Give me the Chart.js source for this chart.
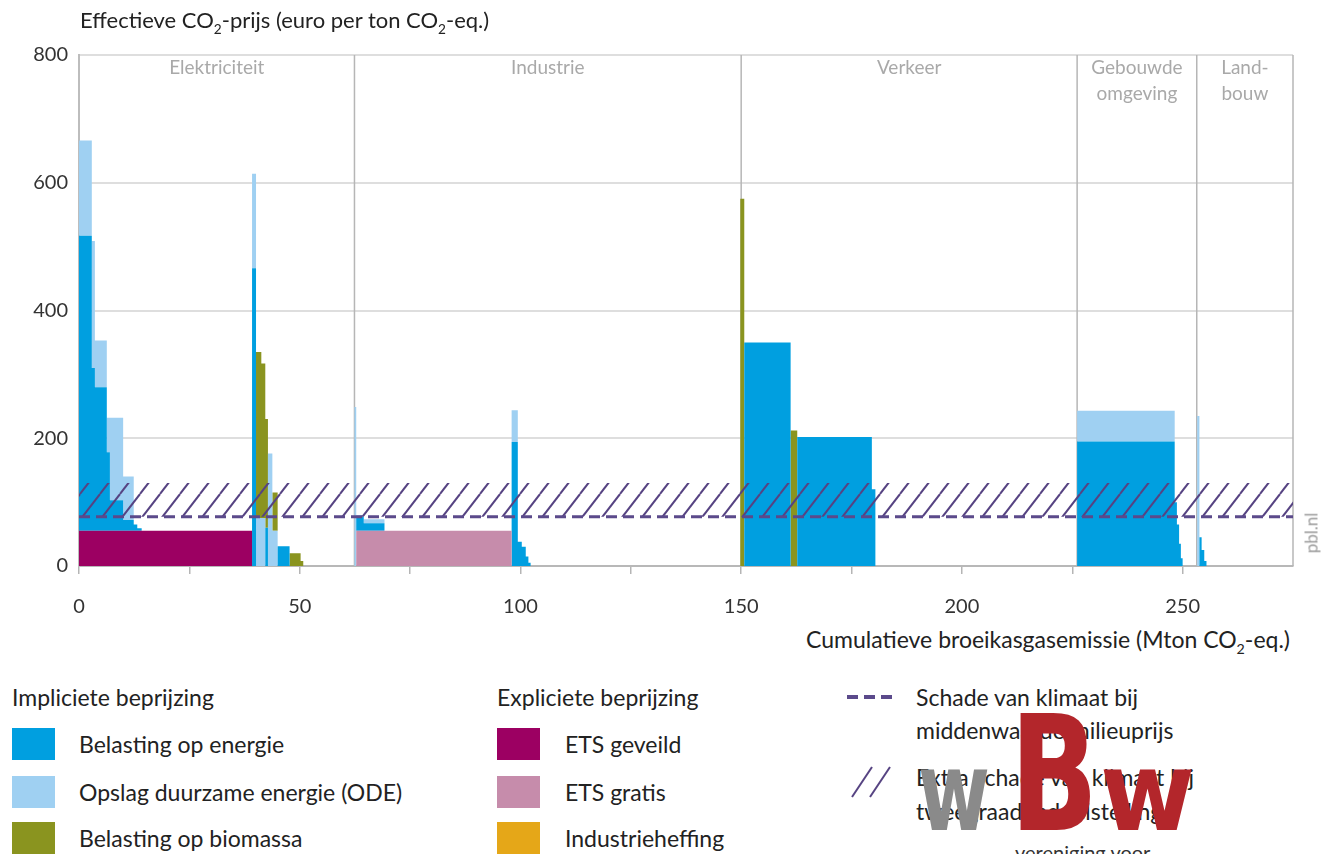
<!DOCTYPE html>
<html lang="nl">
<head>
<meta charset="utf-8">
<title>Effectieve CO2-prijs per sector</title>
<script src="https://cdn.jsdelivr.net/npm/chart.js@4.4.1/dist/chart.umd.min.js"></script>
<style>
  html, body { margin: 0; padding: 0; background: #fff; }
  body { font-family: Lato, "Noto Sans", sans-serif; color: #222; }
  #pagina { position: relative; width: 1329px; height: 854px; overflow: hidden; }
  #grafiekVak { position: absolute; left: 0; top: 0; width: 1329px; height: 625px; }
  .tekst { position: absolute; white-space: nowrap; line-height: 1; }
  sub { font-size: 0.62em; vertical-align: -0.42em; line-height: 0; }
  .titel { left: 80px; top: 9px; font-size: 22px; }
  .astitel { right: 39px; top: 628px; font-size: 23px; }
  .bron { left: 1311px; top: 533px; font-size: 17px; color: #9a9a9a; transform: translate(-50%, -50%) rotate(-90deg); }
  .kop, .item { font-size: 23px; }
  .vak { position: absolute; width: 43px; height: 32px; }
  .logo { position: absolute; left: 900px; top: 700px; }
</style>
</head>
<body>
<div id="pagina">
  <div id="grafiekVak"><canvas id="prijsChart"></canvas></div>

  <div class="tekst titel">Effectieve CO<sub>2</sub>-prijs (euro per ton CO<sub>2</sub>-eq.)</div>
  <div class="tekst astitel">Cumulatieve broeikasgasemissie (Mton CO<sub>2</sub>-eq.)</div>
  <div class="tekst bron">pbl.nl</div>

  <!-- legenda -->
  <div class="tekst kop" style="left:12px; top:686px;">Impliciete beprijzing</div>
  <div class="vak" style="left:12px; top:728px; background:#009fe0;"></div>
  <div class="tekst item" style="left:79px; top:733px;">Belasting op energie</div>
  <div class="vak" style="left:12px; top:776px; background:#9fd0f2;"></div>
  <div class="tekst item" style="left:79px; top:781px;">Opslag duurzame energie (ODE)</div>
  <div class="vak" style="left:12px; top:822px; background:#8a941f;"></div>
  <div class="tekst item" style="left:79px; top:827px;">Belasting op biomassa</div>

  <div class="tekst kop" style="left:497px; top:686px;">Expliciete beprijzing</div>
  <div class="vak" style="left:497px; top:728px; background:#9c0062;"></div>
  <div class="tekst item" style="left:565px; top:733px;">ETS geveild</div>
  <div class="vak" style="left:497px; top:776px; background:#c68cab;"></div>
  <div class="tekst item" style="left:565px; top:781px;">ETS gratis</div>
  <div class="vak" style="left:497px; top:822px; background:#e5a718;"></div>
  <div class="tekst item" style="left:565px; top:827px;">Industrieheffing</div>

  <svg style="position:absolute; left:847px; top:690px;" width="46" height="14">
    <line x1="0" y1="7" x2="46" y2="7" stroke="#5b4a8b" stroke-width="4" stroke-dasharray="11,6"/>
  </svg>
  <div class="tekst item" style="left:916px; top:686px;">Schade van klimaat bij</div>
  <div class="tekst item" style="left:916px; top:719px;">middenwaarde milieuprijs</div>
  <svg style="position:absolute; left:850px; top:763px;" width="43" height="36">
    <line x1="2" y1="34" x2="22" y2="4" stroke="#564382" stroke-width="2"/>
    <line x1="20" y1="34" x2="40" y2="4" stroke="#564382" stroke-width="2"/>
  </svg>
  <div class="tekst item" style="left:916px; top:766px;">Extra schade van klimaat bij</div>
  <div class="tekst item" style="left:916px; top:800px;">tweegraadendoelstelling</div>

  <!-- watermerk -->
  <svg class="logo" width="320" height="154">
    <text x="18" y="130" font-family="DejaVu Sans Condensed" font-weight="bold" font-size="110" fill="#8a8a8a" textLength="72" lengthAdjust="spacingAndGlyphs">w</text>
    <text x="110" y="130" font-family="DejaVu Sans Condensed" font-weight="bold" font-size="160" fill="#b3262b" textLength="88" lengthAdjust="spacingAndGlyphs">B</text>
    <text x="200" y="130" font-family="DejaVu Sans Condensed" font-weight="bold" font-size="110" fill="#b3262b" textLength="95" lengthAdjust="spacingAndGlyphs">w</text>
  </svg>
  <div class="tekst" style="left:1015px; top:842px; font-size:20px; color:#333;">vereniging voor</div>
</div>

<script>
// ========================
// DATA
// ========================

// grenzen van de blokken (cumulatieve emissie, Mton CO2-eq.)
const xGrenzen = [
    0, 2.9, 3.6, 6.3, 7.0, 10.0, 12.4, 13.2, 14.2, 39.2, 40.1, 41.3, 42.2, 42.8, 43.8, 45.0, 47.7, 50.2, 50.8,
    62.4, 62.8, 64.5, 69.2, 98.0, 99.4, 100.3, 101.2, 101.8, 102.3,
    149.8, 150.7, 161.2, 162.7, 179.6, 180.4,
    226.1, 248.2, 248.7, 249.2, 249.6, 250.0,
    253.3, 253.8, 254.3, 254.9, 255.4,
    275
];

// euro per ton CO2-eq., één waarde per blok
const etsGeveild = [
    55, 55, 55, 55, 55, 55, 55, 55, 55, 0, 0, 0, 0, 0, 0, 0, 0, 0, 0,
    0, 0, 0, 0, 0, 0, 0, 0, 0, 0,
    0, 0, 0, 0, 0, 0,
    0, 0, 0, 0, 0, 0,
    0, 0, 0, 0, 0
];

const etsGratis = [
    0, 0, 0, 0, 0, 0, 0, 0, 0, 0, 0, 0, 0, 0, 0, 0, 0, 0, 0,
    0, 55, 55, 55, 0, 0, 0, 0, 0, 0,
    0, 0, 0, 0, 0, 0,
    0, 0, 0, 0, 0, 0,
    0, 0, 0, 0, 0
];

const industrieheffing = [
    0, 0, 0, 0, 0, 0, 0, 0, 0, 0, 0, 0, 0, 0, 0, 0, 0, 0, 0,
    0, 0, 0, 0, 0, 0, 0, 0, 0, 0,
    0, 0, 0, 0, 0, 0,
    0, 0, 0, 0, 0, 0,
    0, 0, 0, 0, 0
];

const belastingEnergie = [
    462, 255, 225, 123, 48, 17, 10, 4, 0, 466, 0, 0, 60, 0, 0, 31, 0, 0, 0,
    0, 22, 12, 0, 194, 38, 30, 15, 5, 0,
    0, 350, 0, 202, 120, 0,
    195, 100, 65, 35, 12, 0,
    0, 45, 25, 8, 0
];

const opslagOde = [
    149, 199, 73, 54, 129, 68, 0, 0, 0, 148, 75, 75, 0, 176, 55, 0, 0, 0, 0,
    249, 3, 6, 0, 50, 0, 0, 0, 0, 0,
    0, 0, 0, 0, 0, 0,
    48, 0, 0, 0, 0, 0,
    235, 0, 0, 0, 0
];

const belastingBiomassa = [
    0, 0, 0, 0, 0, 0, 0, 0, 0, 0, 260, 242, 170, 0, 60, 0, 20, 8, 0,
    0, 0, 0, 0, 0, 0, 0, 0, 0, 0,
    575, 0, 212, 0, 0, 0,
    0, 0, 0, 0, 0, 0,
    0, 0, 0, 0, 0
];

// schade van klimaat (euro per ton)
const milieuprijsMidden = 77;
const milieuprijsTweegraden = 130;

// sectoren
const sectorNamen = [['Elektriciteit'], ['Industrie'], ['Verkeer'], ['Gebouwde', 'omgeving'], ['Land-', 'bouw']];
const sectorGrenzen = [0, 62.4, 150, 226.1, 253.2, 275];

// assen
const yTikken = [0, 200, 400, 600, 800];
const xTikken = [0, 25, 50, 75, 100, 125, 150, 175, 200, 225, 250];
const xLabels = [0, 50, 100, 150, 200, 250];

// ========================
// DATASETS
// ========================
const reeksen = [
    { label: 'ETS geveild', waarden: etsGeveild, kleur: '#9c0062' },
    { label: 'ETS gratis', waarden: etsGratis, kleur: '#c68cab' },
    { label: 'Industrieheffing', waarden: industrieheffing, kleur: '#e5a718' },
    { label: 'Belasting op energie', waarden: belastingEnergie, kleur: '#009fe0' },
    { label: 'Opslag duurzame energie (ODE)', waarden: opslagOde, kleur: '#9fd0f2' },
    { label: 'Belasting op biomassa', waarden: belastingBiomassa, kleur: '#8a941f' }
];

const cumulatief = xGrenzen.map(() => 0);

// elk punt draagt de waarde van het blok dat erop volgt
const stapelSets = reeksen.map((r, i) => {
    const data = xGrenzen.map((x, j) => {
        if (j < r.waarden.length) {
            cumulatief[j] += r.waarden[j];
        }
        return { x: x, y: cumulatief[j] };
    });
    return {
        label: r.label,
        data: data,
        stepped: 'before',
        fill: i === 0 ? 'origin' : '-1',
        backgroundColor: r.kleur,
        borderColor: 'transparent',
        borderWidth: 0,
        pointRadius: 0,
        order: 5
    };
});

function maakArcering() {
    const w = 20, h = 26;
    const c = document.createElement('canvas');
    c.width = w;
    c.height = h;
    const g = c.getContext('2d');
    g.strokeStyle = '#564382';
    g.lineWidth = 2;
    [-w, 0, w].forEach(dx => {
        g.beginPath();
        g.moveTo(dx, h);
        g.lineTo(dx + w, 0);
        g.stroke();
    });
    return g.createPattern(c, 'repeat');
}

const xMax = xGrenzen[xGrenzen.length - 1];

const arceringSet = {
    label: 'Extra schade van klimaat bij tweegraadendoelstelling',
    data: [{ x: 0, y: milieuprijsTweegraden }, { x: xMax, y: milieuprijsTweegraden }],
    fill: { value: milieuprijsMidden },
    backgroundColor: maakArcering(),
    borderColor: 'transparent',
    borderWidth: 0,
    pointRadius: 0,
    order: 1
};

const streepSet = {
    label: 'Schade van klimaat bij middenwaarde milieuprijs',
    data: [{ x: 0, y: milieuprijsMidden }, { x: xMax, y: milieuprijsMidden }],
    fill: false,
    borderColor: '#5b4a8b',
    borderWidth: 3,
    borderDash: [11, 6],
    pointRadius: 0,
    order: 0
};

// ========================
// SECTOREN (lijnen + namen)
// ========================
const sectorPlugin = {
    id: 'sectoren',
    beforeDatasetsDraw(chart) {
        const { ctx, chartArea, scales } = chart;
        const x = scales.x;
        ctx.save();
        ctx.strokeStyle = '#b6b6b6';
        ctx.lineWidth = 1.5;
        sectorGrenzen.slice(1).forEach(v => {
            const px = x.getPixelForValue(v);
            ctx.beginPath();
            ctx.moveTo(px, chartArea.top);
            ctx.lineTo(px, chartArea.bottom);
            ctx.stroke();
        });

        ctx.fillStyle = '#a9a9a9';
        ctx.font = '19px Lato';
        ctx.textAlign = 'center';
        ctx.textBaseline = 'middle';
        sectorNamen.forEach((regels, i) => {
            const mid = (sectorGrenzen[i] + sectorGrenzen[i + 1]) / 2;
            regels.forEach((t, k) => {
                ctx.fillText(t, x.getPixelForValue(mid), chartArea.top + 13 + k * 26);
            });
        });
        ctx.restore();
    }
};

// ========================
// GRAFIEK
// ========================
Chart.defaults.font.family = 'Lato';

new Chart(document.getElementById('prijsChart'), {
    type: 'line',
    data: {
        datasets: [...stapelSets, arceringSet, streepSet]
    },
    options: {
        responsive: true,
        maintainAspectRatio: false,
        animation: false,
        devicePixelRatio: 1,
        layout: {
            padding: { top: 55, right: 36, left: 0, bottom: 0 }
        },
        plugins: {
            legend: { display: false },
            tooltip: { enabled: false }
        },
        scales: {
            x: {
                type: 'linear',
                min: 0,
                max: xMax,
                afterBuildTicks: s => { s.ticks = xTikken.map(v => ({ value: v })); },
                afterFit: s => { s.height = 59; },
                ticks: {
                    autoSkip: false,
                    maxRotation: 0,
                    padding: 21,
                    color: '#333',
                    font: { size: 20 },
                    callback: v => xLabels.includes(v) ? String(v) : ''
                },
                grid: {
                    drawOnChartArea: false,
                    drawTicks: true,
                    tickLength: 8,
                    color: '#b5b5b5',
                    lineWidth: 1.5
                },
                border: { display: true, color: '#b8b8b8', width: 2 }
            },
            y: {
                min: 0,
                max: 800,
                afterBuildTicks: s => { s.ticks = yTikken.map(v => ({ value: v })); },
                afterFit: s => { s.width = 79; },
                ticks: {
                    padding: 11,
                    color: '#333',
                    font: { size: 20 }
                },
                grid: {
                    color: '#dedede',
                    lineWidth: 2,
                    drawTicks: false
                },
                border: { display: true, color: '#bdbdbd', width: 2 }
            }
        }
    },
    plugins: [sectorPlugin]
});
</script>
</body>
</html>
